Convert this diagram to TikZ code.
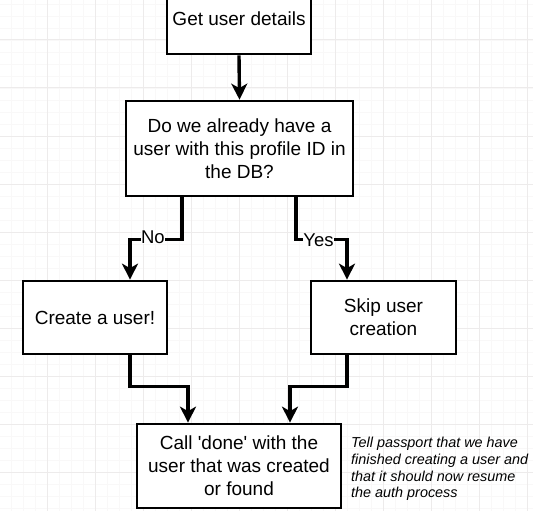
\documentclass[tikz,border=0pt]{standalone}
\usepackage{fontspec}
\setmainfont{Liberation Sans}
\usetikzlibrary{arrows.meta,positioning}
\definecolor{gridmajor}{HTML}{EDEBEB}
\definecolor{gridminor}{HTML}{F9F8F8}
\tikzset{
  box/.style={draw=black, line width=2.7pt, fill=white, align=center, inner sep=2pt,
    font=\fontsize{19}{23}\selectfont},
  flow/.style={draw=black, line width=3.4pt,
    -{Stealth[length=16pt, width=16pt, inset=4.5pt]}},
  lbl/.style={fill=white, inner sep=0.5pt, font=\fontsize{18.5}{22}\selectfont},
  note/.style={align=left, inner sep=0pt, font=\fontsize{14.4}{16.7}\selectfont\itshape},
}
\begin{document}
\begin{tikzpicture}[x=1pt,y=-1pt]
\useasboundingbox (0,0) rectangle (533,511);
\fill[white] (0,0) rectangle (533,511);
% grid
\foreach \gx in {11,23,...,533} \draw[gridminor, line width=0.8pt] (\gx,0) -- (\gx,511);
\foreach \gy in {4,16,...,511} \draw[gridminor, line width=0.8pt] (0,\gy) -- (533,\gy);
\foreach \gx in {47,95,...,533} \draw[gridmajor, line width=1pt] (\gx,0) -- (\gx,511);
\foreach \gy in {40,88,...,511} \draw[gridmajor, line width=1pt] (0,\gy) -- (533,\gy);

% nodes
\node[box, minimum width=144pt, minimum height=70pt] (b1) at (239,19) {\raisebox{-2pt}{Get user details}};
\node[box, minimum width=227pt, minimum height=95pt] (b2) at (239.5,148.5)
  {Do we already have a\\user with this profile ID in\\the DB?};
\node[box, minimum width=144pt, minimum height=73pt] (create) at (95,317.5) {Create a user!};
\node[box, minimum width=145pt, minimum height=73pt] (skip) at (383.5,317.5) {Skip user\\creation};
\node[box, minimum width=204pt, minimum height=84pt] (done) at (239,466)
  {Call \textquotesingle done\textquotesingle{} with the\\user that was created\\or found};
\node[note, anchor=west] (nt) at (351,469)
  {Tell passport that we have\\finished creating a user and\\that it should now resume\\the auth process};

% connectors
\draw[flow] (b1.south) -- (b2.north);
\draw[flow] ([xshift=-57.5pt]b2.south) -- ++(0,42) -| ([xshift=35pt]create.north)
  node[lbl, pos=0.28, yshift=2pt] {No};
\draw[flow] ([xshift=56.5pt]b2.south) -- ++(0,42) -| ([xshift=-36.5pt]skip.north)
  node[lbl, pos=0.22, yshift=-1pt] {Yes};
\draw[flow] ([xshift=35pt]create.south) -- ++(0,31) -| ([xshift=-51pt]done.north);
\draw[flow] ([xshift=-36.5pt]skip.south) -- ++(0,31) -| ([xshift=51pt]done.north);
\end{tikzpicture}
\end{document}
